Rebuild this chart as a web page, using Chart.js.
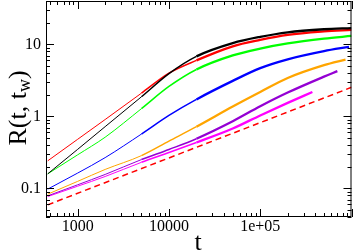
<!DOCTYPE html>
<html>
<head>
<meta charset="utf-8">
<script src="https://cdn.jsdelivr.net/npm/chart.js@4.4.0/dist/chart.umd.min.js"></script>
<style>
  html, body { margin: 0; padding: 0; background: #fff; }
  #wrap { width: 353px; height: 251px; position: relative; }
</style>
</head>
<body>
<div id="wrap"><canvas id="chart"></canvas></div>
<script>
// 1. data (t on x, R(t, t_w) on y)
const times = [470, 1000, 2000, 5000, 10000, 20000, 50000, 100000, 200000, 500000, 1000000];

const blackR   = [0.159, 0.348, 0.719, 1.87, 3.92, 6.81, 10.4, 12.7, 14.7, 16.2, 16.8];
const redR     = [0.241, 0.480, 0.903, 2.10, 3.98, 5.98, 9.38, 11.5, 13.5, 15.1, 15.9];
const greenR   = [0.159, 0.292, 0.513, 1.28, 2.60, 4.48, 7.03, 8.74, 10.3, 12.0, 13.1];
const blueR    = [0.0975, 0.163, 0.267, 0.568, 1.03, 1.72, 3.11, 4.67, 6.19, 8.05, 9.23];
const orangeR  = [0.083, 0.125, 0.183, 0.285, 0.453, 0.719, 1.37, 2.18, 3.41, 5.14, 6.15];
const purpleR  = [0.0787, 0.112, 0.156, 0.251, 0.347, 0.489, 0.855, 1.38, 2.14, 3.56, 4.24];
const magentaR = [0.0769, 0.107, 0.146, 0.230, 0.314, 0.433, 0.677, 1.03, 1.54, 2.18];

// last time of the shorter runs
const blueEnd = 940000;
const orangeEnd = 860000;
const purpleEnd = 700000;
const magentaEnd = 373000;

// guide line (dashed)
const guideT = [470, 1000000];
const guideR = [0.059, 2.53];

const xTickValues = [1000, 10000, 100000];
const yTickValues = [0.1, 1, 10];

// 2. helpers
function toPoints(ts, vals, lastT) {
    return vals.map((v, i) => ({
        x: (i === vals.length - 1 && lastT) ? lastT : ts[i],
        y: v
    }));
}

// thin at early times, thicker where the symbols pile up
function widthByTime(ctx) {
    const t = ctx.p0.parsed.x;
    if (t < 4000) return 1;
    if (t < 15000) return 1.5;
    return 2.3;
}

function curve(label, color, pts) {
    return {
        label: label,
        data: pts,
        borderColor: color,
        backgroundColor: color,
        borderWidth: 1.5,
        pointRadius: 0,
        cubicInterpolationMode: 'monotone',
        segment: { borderWidth: widthByTime },
        fill: false
    };
}

const FONT = "'Liberation Serif', 'DejaVu Serif', serif";

// 3. inward ticks on all four sides + axis titles
const framePlugin = {
    id: 'framePlugin',
    afterDraw(chart) {
        const ctx = chart.ctx;
        const a = chart.chartArea;
        const xs = chart.scales.x;
        const ys = chart.scales.y;

        ctx.save();
        ctx.strokeStyle = '#000';
        ctx.lineWidth = 1;
        ctx.strokeRect(a.left + 0.5, a.top + 0.5, a.right - a.left - 1, a.bottom - a.top - 1);

        ctx.beginPath();
        // x ticks
        for (let e = 2; e <= 6; e++) {
            for (let k = 1; k <= 9; k++) {
                const v = k * Math.pow(10, e);
                if (v < xs.min || v > xs.max) continue;
                const len = k === 1 ? 8 : 4;
                const px = Math.round(xs.getPixelForValue(v)) + 0.5;
                ctx.moveTo(px, a.bottom);
                ctx.lineTo(px, a.bottom - len);
                ctx.moveTo(px, a.top);
                ctx.lineTo(px, a.top + len);
            }
        }
        // y ticks
        for (let e = -2; e <= 1; e++) {
            for (let k = 1; k <= 9; k++) {
                const v = k * Math.pow(10, e);
                if (v < ys.min || v > ys.max) continue;
                const len = k === 1 ? 8 : 4;
                const py = Math.round(ys.getPixelForValue(v)) + 0.5;
                ctx.moveTo(a.left, py);
                ctx.lineTo(a.left + len, py);
                ctx.moveTo(a.right, py);
                ctx.lineTo(a.right - len, py);
            }
        }
        ctx.stroke();

        // axis titles
        ctx.fillStyle = '#000';
        ctx.textBaseline = 'alphabetic';

        ctx.font = '26px ' + FONT;
        ctx.textAlign = 'center';
        ctx.fillText('t', 198, 250);

        // R(t, t_w) rotated, with subscript w
        const big = '26px ' + FONT;
        const small = '18px ' + FONT;
        ctx.font = big;
        const w1 = ctx.measureText('R(t, t').width;
        const w3 = ctx.measureText(')').width;
        ctx.font = small;
        const w2 = ctx.measureText('w').width;
        const total = w1 + w2 + w3;

        ctx.translate(26, 108);
        ctx.rotate(-Math.PI / 2);
        ctx.textAlign = 'left';
        let x0 = -total / 2;
        ctx.font = big;
        ctx.fillText('R(t, t', x0, 0);
        ctx.font = small;
        ctx.fillText('w', x0 + w1, 4);
        ctx.font = big;
        ctx.fillText(')', x0 + w1 + w2, 0);
        ctx.restore();
    }
};

// 4. chart
const ctx = document.getElementById('chart').getContext('2d');
const myChart = new Chart(ctx, {
    type: 'line',
    data: {
        datasets: [
            curve('black', '#000000', toPoints(times, blackR)),
            curve('red', '#ff0000', toPoints(times, redR)),
            curve('green', '#00ff00', toPoints(times, greenR)),
            curve('blue', '#0000ff', toPoints(times, blueR, blueEnd)),
            curve('orange', '#ffa500', toPoints(times, orangeR, orangeEnd)),
            curve('violet', '#9400d3', toPoints(times, purpleR, purpleEnd)),
            curve('magenta', '#ff00ff', toPoints(times, magentaR, magentaEnd)),
            {
                label: 'guide',
                data: toPoints(guideT, guideR),
                borderColor: '#ff0000',
                borderWidth: 1.5,
                borderDash: [6, 4],
                pointRadius: 0,
                fill: false
            }
        ]
    },
    options: {
        responsive: true,
        maintainAspectRatio: false,
        animation: false,
        layout: { padding: { top: 1, right: 1.5, left: 0, bottom: 0 } },
        plugins: {
            legend: { display: false },
            tooltip: { enabled: false }
        },
        scales: {
            x: {
                type: 'logarithmic',
                bounds: 'data',
                min: 450,
                max: 1000000,
                grid: { display: false, drawTicks: false },
                border: { display: false },
                afterBuildTicks: (scale) => {
                    scale.ticks = xTickValues.map(v => ({ value: v }));
                },
                afterFit: (scale) => {
                    scale.height = 34;
                    scale.paddingLeft = 0;
                    scale.paddingRight = 0;
                },
                ticks: {
                    autoSkip: false,
                    maxRotation: 0,
                    padding: 0,
                    color: '#000',
                    font: { family: FONT, size: 16 },
                    callback: (v) => v === 100000 ? '1e+05' : String(v)
                }
            },
            y: {
                type: 'logarithmic',
                bounds: 'data',
                min: 0.04,
                max: 40,
                grid: { display: false, drawTicks: false },
                border: { display: false },
                afterBuildTicks: (scale) => {
                    scale.ticks = yTickValues.map(v => ({ value: v }));
                },
                afterFit: (scale) => {
                    scale.width = 46;
                    scale.paddingTop = 0;
                    scale.paddingBottom = 0;
                },
                ticks: {
                    autoSkip: false,
                    padding: 5,
                    color: '#000',
                    font: { family: FONT, size: 16 },
                    callback: (v) => String(v)
                }
            }
        }
    },
    plugins: [framePlugin]
});
</script>
</body>
</html>
